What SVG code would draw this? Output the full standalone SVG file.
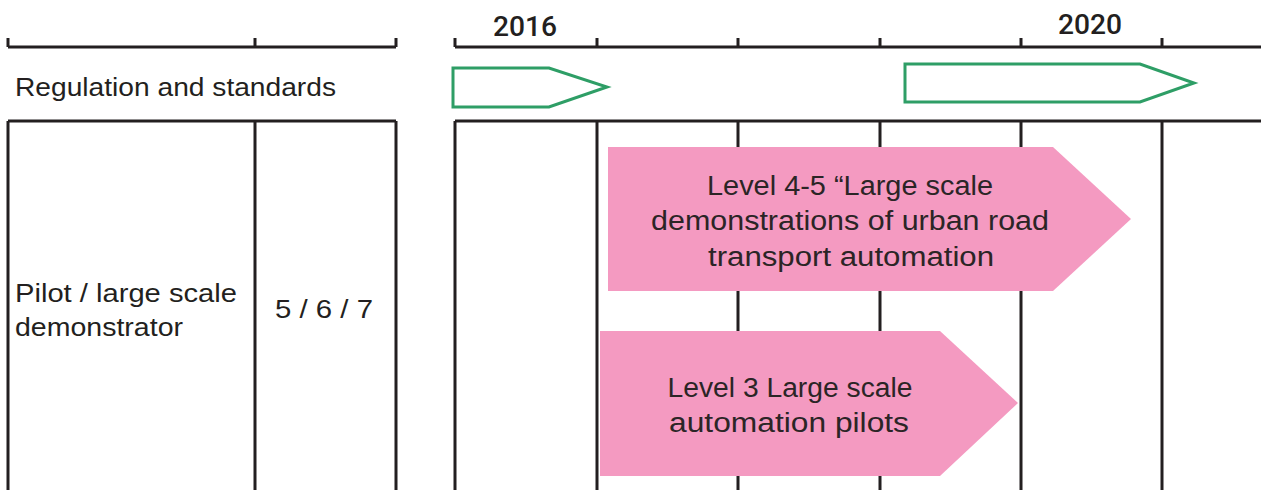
<svg xmlns="http://www.w3.org/2000/svg" width="1261" height="490" viewBox="0 0 1261 490">
  <style>
    .rule { stroke: #231f20; stroke-width: 3; fill: none; }
    .label { font-family: "Liberation Sans", Arial, sans-serif; font-size: 25px; fill: #231f20; }
    .year { font-family: Roboto, "Liberation Sans", sans-serif; font-size: 28px; font-weight: 500; fill: #231f20; }
    .reg { fill: #ffffff; stroke: #2e9e66; stroke-width: 3; }
    .bar { fill: #f49ac1; }
    .bartext { font-family: "Liberation Sans", Arial, sans-serif; font-size: 27px; fill: #2b2526; text-anchor: middle; }
  </style>
  <rect width="1261" height="490" fill="#ffffff"/>

  <!-- timeline axis -->
  <g id="axis">
    <path class="rule" d="M8,47 H396 M8,38 V47 M255,38 V47 M396,38 V47"/>
    <path class="rule" d="M455,47 H1261 M455,38 V47 M597,38 V47 M738,38 V47 M880,38 V47 M1021,38 V47 M1162,38 V47"/>
    <text class="year" x="525" y="36" text-anchor="middle" textLength="64" lengthAdjust="spacingAndGlyphs">2016</text>
    <text class="year" x="1090" y="34" text-anchor="middle" textLength="64" lengthAdjust="spacingAndGlyphs">2020</text>
  </g>

  <!-- table grid -->
  <g id="grid">
    <path class="rule" d="M8,121 H396 M8,121 V490 M255,121 V490 M396,121 V490"/>
    <path class="rule" d="M455,121 H1261 M455,121 V490 M597,121 V490 M738,121 V490 M880,121 V490 M1021,121 V490 M1162,121 V490"/>
  </g>

  <!-- row labels -->
  <g id="row-regulation">
    <text class="label" x="15" y="96" textLength="321" lengthAdjust="spacingAndGlyphs">Regulation and standards</text>
  </g>
  <g id="row-pilot">
    <text class="label" x="15" y="302" textLength="222" lengthAdjust="spacingAndGlyphs">Pilot / large scale</text>
    <text class="label" x="15" y="336" textLength="168" lengthAdjust="spacingAndGlyphs">demonstrator</text>
  </g>
  <g id="row-pilot-ref">
    <text class="label" x="275" y="318" textLength="98" lengthAdjust="spacingAndGlyphs">5 / 6 / 7</text>
  </g>

  <!-- regulation milestones -->
  <g id="regulation-1">
    <polygon class="reg" points="453,68 549,68 607,87 549,107 453,107"/>
  </g>
  <g id="regulation-2">
    <polygon class="reg" points="905,64 1140,64 1194,83 1140,102 905,102"/>
  </g>

  <!-- activity bars -->
  <g id="level45">
    <polygon class="bar" points="608,147 1053,147 1131,219 1053,291 608,291"/>
    <text class="bartext" x="850" y="195" textLength="286" lengthAdjust="spacingAndGlyphs">Level 4-5 “Large scale</text>
    <text class="bartext" x="850" y="230" textLength="398" lengthAdjust="spacingAndGlyphs">demonstrations of urban road</text>
    <text class="bartext" x="851" y="266" textLength="286" lengthAdjust="spacingAndGlyphs">transport automation</text>
  </g>
  <g id="level3">
    <polygon class="bar" points="600,331 940,331 1018,403 940,476 600,476"/>
    <text class="bartext" x="790" y="397" textLength="245" lengthAdjust="spacingAndGlyphs">Level 3 Large scale</text>
    <text class="bartext" x="789" y="432" textLength="240" lengthAdjust="spacingAndGlyphs">automation pilots</text>
  </g>
</svg>
